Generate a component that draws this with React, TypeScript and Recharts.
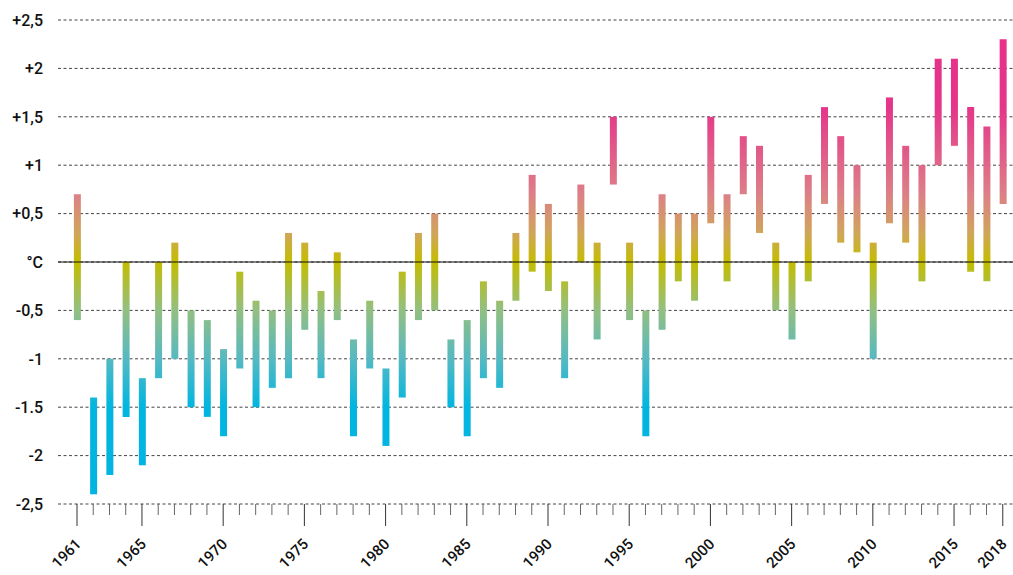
import { BarChart, Bar, XAxis, YAxis, CartesianGrid, ReferenceLine } from "recharts"

const years = [
  1961, 1962, 1963, 1964, 1965, 1966, 1967, 1968, 1969, 1970,
  1971, 1972, 1973, 1974, 1975, 1976, 1977, 1978, 1979, 1980,
  1981, 1982, 1983, 1984, 1985, 1986, 1987, 1988, 1989, 1990,
  1991, 1992, 1993, 1994, 1995, 1996, 1997, 1998, 1999, 2000,
  2001, 2002, 2003, 2004, 2005, 2006, 2007, 2008, 2009, 2010,
  2011, 2012, 2013, 2014, 2015, 2016, 2017, 2018,
]

const lows = [
  -0.6, -2.4, -2.2, -1.6, -2.1, -1.2, -1.0, -1.5, -1.6, -1.8,
  -1.1, -1.5, -1.3, -1.2, -0.7, -1.2, -0.6, -1.8, -1.1, -1.9,
  -1.4, -0.6, -0.5, -1.5, -1.8, -1.2, -1.3, -0.4, -0.1, -0.3,
  -1.2, 0, -0.8, 0.8, -0.6, -1.8, -0.7, -0.2, -0.4, 0.4,
  -0.2, 0.7, 0.3, -0.5, -0.8, -0.2, 0.6, 0.2, 0.1, -1.0,
  0.4, 0.2, -0.2, 1.0, 1.2, -0.1, -0.2, 0.6,
]

const highs = [
  0.7, -1.4, -1.0, 0, -1.2, 0, 0.2, -0.5, -0.6, -0.9,
  -0.1, -0.4, -0.5, 0.3, 0.2, -0.3, 0.1, -0.8, -0.4, -1.1,
  -0.1, 0.3, 0.5, -0.8, -0.6, -0.2, -0.4, 0.3, 0.9, 0.6,
  -0.2, 0.8, 0.2, 1.5, 0.2, -0.5, 0.7, 0.5, 0.5, 1.5,
  0.7, 1.3, 1.2, 0.2, 0, 0.9, 1.6, 1.3, 1.0, 0.2,
  1.7, 1.2, 1.0, 2.1, 2.1, 1.6, 1.4, 2.3,
]

const labeledYears = [1961, 1965, 1970, 1975, 1980, 1985, 1990, 1995, 2000, 2005, 2010, 2015, 2018]

const yTicks = [-2.5, -2, -1.5, -1, -0.5, 0, 0.5, 1, 1.5, 2, 2.5]
const yTickLabels = ["-2,5", "-2", "-1.5", "-1", "-0,5", "°C", "+0,5", "+1", "+1,5", "+2", "+2,5"]

const data = years.map((year, i) => ({ year, range: [lows[i], highs[i]] }))

const W = 1013
const H = 575
const TOP = 20
const BOTTOM = 504
const LEFT = 58
const FONT = "Roboto, 'Noto Sans', sans-serif"

// colour follows the temperature, not the bar
const colorStops = [
  { v: 2.5, c: "#e82f8a" },
  { v: 1.6, c: "#e5358a" },
  { v: 0.7, c: "#dc8088" },
  { v: 0.3, c: "#d0a55a" },
  { v: 0, c: "#c4bd00" },
  { v: -0.5, c: "#92bf82" },
  { v: -1.0, c: "#56b9c2" },
  { v: -1.5, c: "#00b6e0" },
  { v: -2.5, c: "#00b4e2" },
]

function YTick(props: any) {
  const { y, payload } = props
  const idx = yTicks.indexOf(payload.value)
  return (
    <text x={43} y={y} dy={5.8} textAnchor="end" fontFamily={FONT} fontSize={16} fontWeight={500} fill="#111">
      {yTickLabels[idx]}
    </text>
  )
}

function XTick(props: any) {
  const { x, payload } = props
  const major = labeledYears.includes(payload.value)
  const ax = x + 5
  const ay = 545
  return (
    <g>
      <line x1={x} x2={x} y1={BOTTOM} y2={major ? 526 : 515} stroke={major ? "#333" : "#666"} strokeWidth={1} />
      {major && (
        <text
          x={ax}
          y={ay}
          textAnchor="end"
          transform={`rotate(-45, ${ax}, ${ay})`}
          fontFamily={FONT}
          fontSize={15}
          fontWeight={500}
          fill="#111"
        >
          {payload.value}
        </text>
      )}
    </g>
  )
}

export default function App() {
  return (
    <div style={{ position: "absolute", left: 0, top: 0, width: W, height: H, background: "#fff" }}>
      <BarChart width={W} height={H} data={data} margin={{ top: TOP, right: 0, bottom: 0, left: 0 }} barSize={7}>
        <defs>
          <linearGradient id="tempGrad" gradientUnits="userSpaceOnUse" x1={0} x2={0} y1={TOP} y2={BOTTOM}>
            {colorStops.map((s) => (
              <stop key={s.v} offset={(2.5 - s.v) / 5} stopColor={s.c} />
            ))}
          </linearGradient>
        </defs>
        <CartesianGrid horizontal vertical={false} stroke="#444" strokeDasharray="3 2.5" />
        <XAxis
          dataKey="year"
          type="number"
          domain={[1959.83, 2018.63]}
          ticks={years}
          interval={0}
          allowDataOverflow
          axisLine={false}
          tickLine={false}
          height={H - BOTTOM}
          tick={<XTick />}
        />
        <YAxis
          type="number"
          domain={[-2.5, 2.5]}
          ticks={yTicks}
          interval={0}
          width={LEFT}
          axisLine={false}
          tickLine={false}
          tick={<YTick />}
        />
        <ReferenceLine y={0} stroke="#111" strokeWidth={1.2} />
        <Bar dataKey="range" fill="url(#tempGrad)" isAnimationActive={false} />
      </BarChart>
    </div>
  )
}
